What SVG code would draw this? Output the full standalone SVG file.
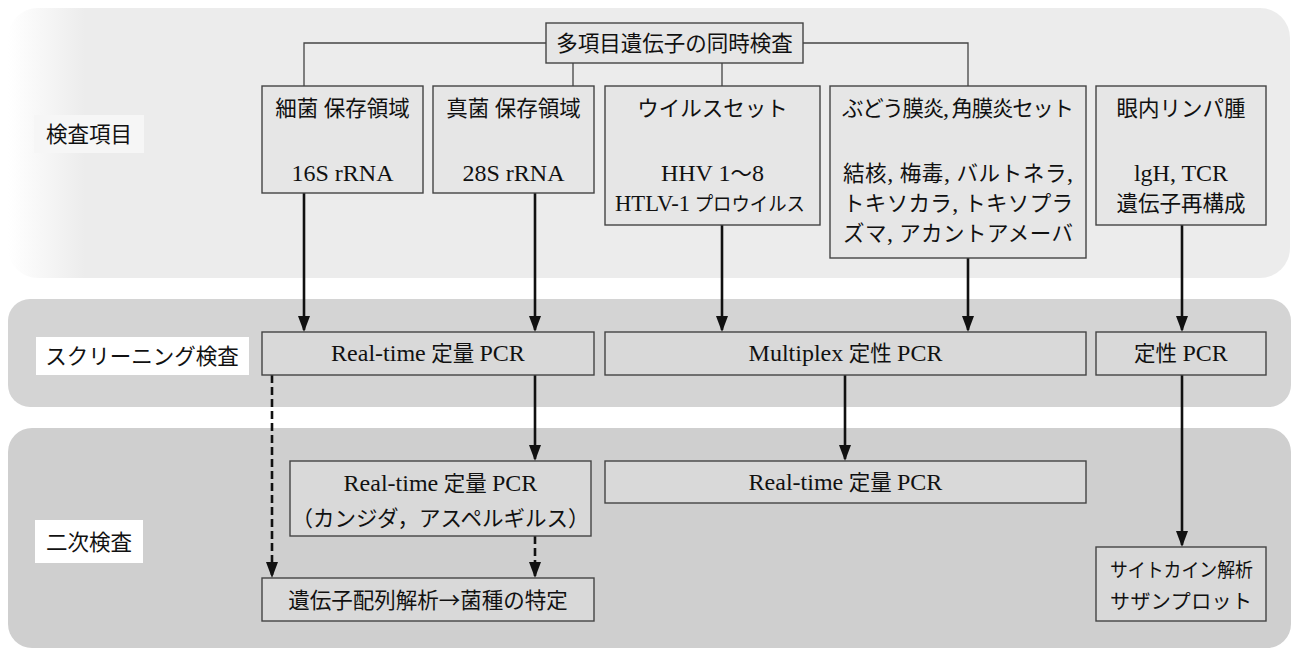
<svg xmlns="http://www.w3.org/2000/svg" width="1296" height="652" viewBox="0 0 1296 652">
<style>
text{font-family:"Liberation Serif","Noto Sans CJK JP",serif;font-size:21.5px;fill:#111;text-anchor:middle}
.l{font-size:24px}
.s{font-size:19.5px}
.j{font-family:"Noto Sans CJK JP",sans-serif}
.box{fill:#e6e6e6;stroke:#444;stroke-width:1.4}
.box2{fill:#d9d9d9;stroke:#444;stroke-width:1.4}
.tree{fill:none;stroke:#444;stroke-width:1.3}
.arr{fill:none;stroke:#111;stroke-width:2.6;marker-end:url(#ah)}
.dash{stroke-dasharray:8 4}
</style>
<defs>
<linearGradient id="fade" x1="0" y1="0" x2="1" y2="0">
<stop offset="0" stop-color="#ffffff"/>
<stop offset="0.06" stop-color="#ececec"/>
<stop offset="1" stop-color="#ececec"/>
</linearGradient>
<marker id="ah" viewBox="0 0 16 12" refX="14" refY="6" markerWidth="16" markerHeight="12" markerUnits="userSpaceOnUse" orient="auto">
<path d="M0,0 L16,6 L0,12 z" fill="#111"/>
</marker>
</defs>
<rect width="1296" height="652" fill="#ffffff"/>
<g id="bands">
<rect x="8" y="8" width="1282" height="270" rx="30" fill="url(#fade)"/>
<rect x="8" y="299" width="1283" height="108" rx="22" fill="#d4d4d4"/>
<rect x="8" y="428" width="1283" height="220" rx="24" fill="#cfcfcf"/>
</g>
<g id="labels">
<rect x="34" y="115" width="110" height="38" fill="#f6f6f6"/>
<text x="89" y="141.5">検査項目</text>
<rect x="36" y="337" width="213" height="38" fill="#ffffff"/>
<text x="142" y="363.5">スクリーニング検査</text>
<rect x="35" y="520" width="108" height="43" fill="#ffffff"/>
<text x="89" y="549.5">二次検査</text>
</g>
<g id="connectors">
<path class="tree" d="M546,43 H304 V86 M803,43 H968 V86 M573,63 V86 M722,63 V86"/>
<path class="arr" d="M304,193 V330"/>
<path class="arr" d="M535,193 V330"/>
<path class="arr" d="M722,225 V330"/>
<path class="arr" d="M968,258 V330"/>
<path class="arr" d="M1182,225 V330"/>
<path class="arr" d="M535,375 V459"/>
<path class="arr" d="M845,375 V459"/>
<path class="arr" d="M1182,375 V545"/>
<path class="arr dash" d="M272,375 V576"/>
<path class="arr dash" d="M535,536 V576"/>
</g>
<g id="title">
<rect class="box" x="546" y="23" width="257" height="40"/>
<text x="674.5" y="50.5">多項目遺伝子の同時検査</text>
</g>
<g id="bacteria">
<rect class="box" x="262" y="86" width="161" height="107"/>
<text x="342.5" y="115.5">細菌 保存領域</text>
<text class="l" x="342.5" y="181">16S rRNA</text>
</g>
<g id="fungi">
<rect class="box" x="433" y="86" width="161" height="107"/>
<text x="513.5" y="115.5">真菌 保存領域</text>
<text class="l" x="513.5" y="181">28S rRNA</text>
</g>
<g id="virus">
<rect class="box" x="605" y="86" width="215" height="139"/>
<text x="712.5" y="115.5">ウイルスセット</text>
<text x="712.5" y="181"><tspan class="l">HHV 1</tspan>〜<tspan class="l">8</tspan></text>
<text x="710" y="211" textLength="190" lengthAdjust="spacingAndGlyphs"><tspan class="l">HTLV-1</tspan><tspan class="s"> プロウイルス</tspan></text>
</g>
<g id="uveitis">
<rect class="box" x="830" y="86" width="256" height="172"/>
<text x="958" y="115.5" textLength="232" lengthAdjust="spacing">ぶどう膜炎<tspan class="l">,</tspan> 角膜炎セット</text>
<text x="958" y="181" textLength="230" lengthAdjust="spacing">結核<tspan class="l">,</tspan> 梅毒<tspan class="l">,</tspan> バルトネラ<tspan class="l">,</tspan></text>
<text x="958" y="211" textLength="230" lengthAdjust="spacing">トキソカラ<tspan class="l">,</tspan> トキソプラ</text>
<text x="958" y="241" textLength="230" lengthAdjust="spacing">ズマ<tspan class="l">,</tspan> アカントアメーバ</text>
</g>
<g id="lymphoma">
<rect class="box" x="1096" y="86" width="170" height="139"/>
<text x="1181" y="115.5">眼内リンパ腫</text>
<text class="l" x="1181" y="181">lgH, TCR</text>
<text x="1181" y="211">遺伝子再構成</text>
</g>
<g id="rt-screen">
<rect class="box2" x="262" y="332" width="332" height="43"/>
<text x="428" y="361"><tspan class="l">Real-time</tspan> 定量 <tspan class="l">PCR</tspan></text>
</g>
<g id="multiplex">
<rect class="box2" x="605" y="332" width="481" height="43"/>
<text x="845.5" y="361"><tspan class="l">Multiplex</tspan> 定性 <tspan class="l">PCR</tspan></text>
</g>
<g id="qual">
<rect class="box2" x="1096" y="332" width="170" height="43"/>
<text x="1181" y="361">定性 <tspan class="l">PCR</tspan></text>
</g>
<g id="rt-fungi">
<rect class="box2" x="290" y="461" width="301" height="75"/>
<text x="440.5" y="491"><tspan class="l">Real-time</tspan> 定量 <tspan class="l">PCR</tspan></text>
<text x="440.5" y="525.5">（カンジダ，アスペルギルス）</text>
</g>
<g id="rt-virus">
<rect class="box2" x="605" y="461" width="481" height="42"/>
<text x="845.5" y="490"><tspan class="l">Real-time</tspan> 定量 <tspan class="l">PCR</tspan></text>
</g>
<g id="sequencing">
<rect class="box2" x="262" y="578" width="332" height="43"/>
<text x="428" y="607.5">遺伝子配列解析<tspan class="j">→</tspan>菌種の特定</text>
</g>
<g id="cytokine">
<rect class="box2" x="1096" y="547" width="170" height="74"/>
<text x="1181.5" y="577" style="font-size:19.5px" textLength="143" lengthAdjust="spacingAndGlyphs">サイトカイン解析</text>
<text x="1181" y="609" style="font-size:20px" textLength="142" lengthAdjust="spacing">サザンプロット</text>
</g>
</svg>
